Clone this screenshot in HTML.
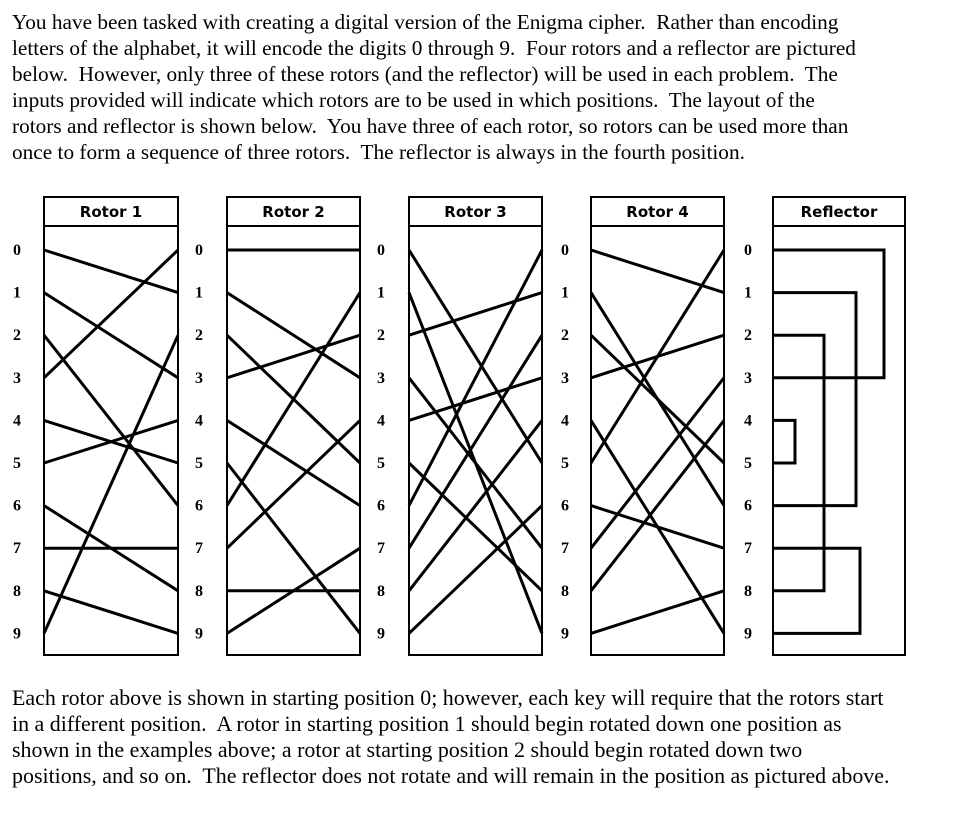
<!DOCTYPE html>
<html><head><meta charset="utf-8"><style>
html,body{margin:0;padding:0;background:#fff;width:956px;height:820px;overflow:hidden}
.t{position:absolute;left:12px;font-family:"Liberation Serif",serif;font-size:21.3px;line-height:26px;white-space:pre;color:#000}
svg{position:absolute;left:0;top:0}
</style></head><body>
<div class="t" style="top:9px">You have been tasked with creating a digital version of the Enigma cipher.  Rather than encoding
letters of the alphabet, it will encode the digits 0 through 9.  Four rotors and a reflector are pictured
below.  However, only three of these rotors (and the reflector) will be used in each problem.  The
inputs provided will indicate which rotors are to be used in which positions.  The layout of the
rotors and reflector is shown below.  You have three of each rotor, so rotors can be used more than
once to form a sequence of three rotors.  The reflector is always in the fourth position.</div>
<div class="t" style="top:685px;font-size:21.95px">Each rotor above is shown in starting position 0; however, each key will require that the rotors start
in a different position.  A rotor in starting position 1 should begin rotated down one position as
shown in the examples above; a rotor at starting position 2 should begin rotated down two
positions, and so on.  The reflector does not rotate and will remain in the position as pictured above.</div>
<svg width="956" height="820" id="s"></svg>
<script>
const s=document.getElementById('s');const NS='http://www.w3.org/2000/svg';
function el(t,a,txt){const e=document.createElementNS(NS,t);for(const k in a)e.setAttribute(k,a[k]);if(txt!==undefined)e.textContent=txt;s.appendChild(e);return e;}
const Y=i=>250+i*42.6;
const boxes=[[44,178,'Rotor 1',17],[227,360,'Rotor 2',199],[409,542,'Rotor 3',381],[591,724,'Rotor 4',565],[773,905,'Reflector',748]];
const wires=[[1,3,6,0,5,4,8,7,9,2],[0,3,5,2,6,9,1,4,8,7],[5,9,1,7,3,8,0,2,4,6],[1,6,5,2,9,0,7,3,4,8]];
boxes.forEach((b,k)=>{
 el('rect',{x:b[0],y:197,width:b[1]-b[0],height:458,fill:'none',stroke:'#000','stroke-width':2});
 el('line',{x1:b[0],y1:226,x2:b[1],y2:226,stroke:'#000','stroke-width':2});
 el('text',{x:(b[0]+b[1])/2,y:217,'text-anchor':'middle','font-family':'DejaVu Sans,sans-serif','font-size':15,'font-weight':'bold'},b[2]);
 for(let i=0;i<10;i++)el('text',{x:b[3],y:Y(i)+5,'text-anchor':'middle','font-family':'Liberation Serif,serif','font-size':16,'font-weight':'bold'},String(i));
 if(k<4)wires[k].forEach((r,i)=>el('line',{x1:b[0],y1:Y(i),x2:b[1],y2:Y(r),stroke:'#000','stroke-width':3}));
});
[[0,3,884],[1,6,856],[2,8,824],[4,5,795],[7,9,860]].forEach(([a,b,x])=>{
 el('polyline',{points:`773,${Y(a)} ${x},${Y(a)} ${x},${Y(b)} 773,${Y(b)}`,fill:'none',stroke:'#000','stroke-width':3});
});
</script>
</body></html>
